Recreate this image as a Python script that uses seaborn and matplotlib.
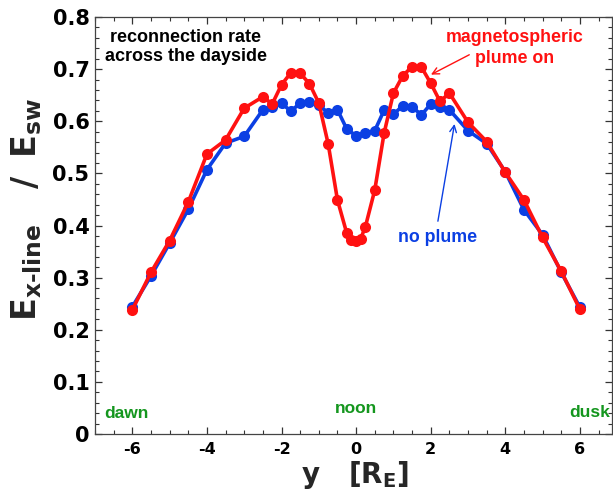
import matplotlib
matplotlib.use('Agg')
import matplotlib.pyplot as plt
from matplotlib.ticker import MultipleLocator
import seaborn as sns
import pandas as pd

sns.set_theme(style='ticks')
plt.rcParams['font.family'] = ['DejaVu Sans']
plt.rcParams['font.weight'] = 'bold'
plt.rcParams['axes.unicode_minus'] = False
plt.rcParams['mathtext.fontset'] = 'dejavusans'
plt.rcParams['mathtext.default'] = 'bf'

# 데이터
y_noplume = [-6, -5.5, -5, -4.5, -4, -3.5, -3, -2.5, -2.25, -2, -1.75, -1.5, -1.25, -1,
             -0.75, -0.5, -0.25, 0, 0.25, 0.5, 0.75, 1, 1.25, 1.5, 1.75, 2, 2.25, 2.5,
             3, 3.5, 4, 4.5, 5, 5.5, 6]
rate_noplume = [0.244, 0.303, 0.366, 0.431, 0.507, 0.558, 0.571, 0.622, 0.628, 0.635, 0.619,
                0.635, 0.637, 0.631, 0.616, 0.622, 0.585, 0.572, 0.578, 0.582, 0.621, 0.613,
                0.630, 0.628, 0.612, 0.633, 0.628, 0.622, 0.582, 0.557, 0.503, 0.430, 0.382,
                0.310, 0.243]

y_plume = [-6, -5.5, -5, -4.5, -4, -3.5, -3, -2.5, -2.25, -2, -1.75, -1.5, -1.25, -1,
           -0.75, -0.5, -0.25, -0.125, 0, 0.125, 0.25, 0.5, 0.75, 1, 1.25, 1.5, 1.75, 2,
           2.25, 2.5, 3, 3.5, 4, 4.5, 5, 5.5, 6]
rate_plume = [0.238, 0.310, 0.371, 0.445, 0.537, 0.564, 0.625, 0.647, 0.633, 0.670, 0.693,
              0.692, 0.672, 0.635, 0.557, 0.449, 0.385, 0.372, 0.371, 0.375, 0.398, 0.468,
              0.577, 0.654, 0.687, 0.705, 0.704, 0.673, 0.638, 0.654, 0.598, 0.561, 0.502,
              0.449, 0.377, 0.312, 0.239]

y_ticks = [0, 0.1, 0.2, 0.3, 0.4, 0.5, 0.6, 0.7, 0.8]
y_ticklabels = ['0', '0.1', '0.2', '0.3', '0.4', '0.5', '0.6', '0.7', '0.8']

blue = '#0b3fe3'
red = '#ff1111'
green = '#14961e'
ann_font = ['Liberation Sans', 'DejaVu Sans']

fig = plt.figure(figsize=(6.13, 5.0), dpi=100)
ax = fig.add_axes([95 / 613, 66 / 500, 517 / 613, 417 / 500])

df_no = pd.DataFrame({'y': y_noplume, 'rate': rate_noplume})
df_on = pd.DataFrame({'y': y_plume, 'rate': rate_plume})

sns.lineplot(data=df_no, x='y', y='rate', ax=ax, color=blue, linewidth=2.6,
             marker='o', markersize=8, markeredgewidth=0, sort=False)
sns.lineplot(data=df_on, x='y', y='rate', ax=ax, color=red, linewidth=2.6,
             marker='o', markersize=8, markeredgewidth=0, sort=False)

ax.set_xlim(-7, 6.86)
ax.set_ylim(0, 0.8)
ax.xaxis.set_major_locator(MultipleLocator(2))
ax.xaxis.set_minor_locator(MultipleLocator(0.5))
ax.yaxis.set_minor_locator(MultipleLocator(0.02))
ax.set_yticks(y_ticks)
ax.set_yticklabels(y_ticklabels)
ax.tick_params(which='both', direction='in', top=True, right=True, colors='#333333',
               labelcolor='black')
ax.tick_params(axis='x', labelsize=11.5, pad=6)
ax.tick_params(axis='y', labelsize=15, pad=4)
ax.tick_params(which='major', length=5, width=0.9)
ax.tick_params(which='minor', length=3, width=0.8)
for s in ax.spines.values():
    s.set_color('#444444')
    s.set_linewidth(0.9)

ax.set_xlabel(r'y   [R$_E$]', fontsize=20, fontweight='bold')
ax.xaxis.set_label_coords(0.503, -0.06)
ax.set_ylabel(r'$E_{x\text{-}line}\quad/\;\;E_{sw}$', fontsize=24)
ax.yaxis.set_label_coords(-0.098, 0.54)

fig.text(186 / 613, 1 - 47 / 500, 'reconnection rate\nacross the dayside', ha='center',
         va='center', fontsize=13, fontweight='bold', color='black', linespacing=1.2,
         family=ann_font)
fig.text(515 / 613, 1 - 48 / 500, 'magnetospheric\nplume on', ha='center', va='center',
         fontsize=12.8, fontweight='bold', color=red, linespacing=1.3, family=ann_font)
fig.text(438 / 613, 1 - 237 / 500, 'no plume', ha='center', va='center',
         fontsize=12.8, fontweight='bold', color=blue, family=ann_font)

ax.annotate('', xy=(1.94, 0.687), xytext=(3.10, 0.730),
            arrowprops=dict(arrowstyle='->', color=red, lw=1.0))
ax.annotate('', xy=(2.65, 0.600), xytext=(2.18, 0.403),
            arrowprops=dict(arrowstyle='->', color=blue, lw=1.0))

ax.text(-6.75, 0.04, 'dawn', ha='left', va='center', fontsize=12.5, fontweight='bold',
        color=green, family=ann_font)
ax.text(0, 0.048, 'noon', ha='center', va='center', fontsize=12.5, fontweight='bold',
        color=green, family=ann_font)
ax.text(6.8, 0.042, 'dusk', ha='right', va='center', fontsize=12.5, fontweight='bold',
        color=green, family=ann_font)

fig.savefig('out.png', dpi=100)
